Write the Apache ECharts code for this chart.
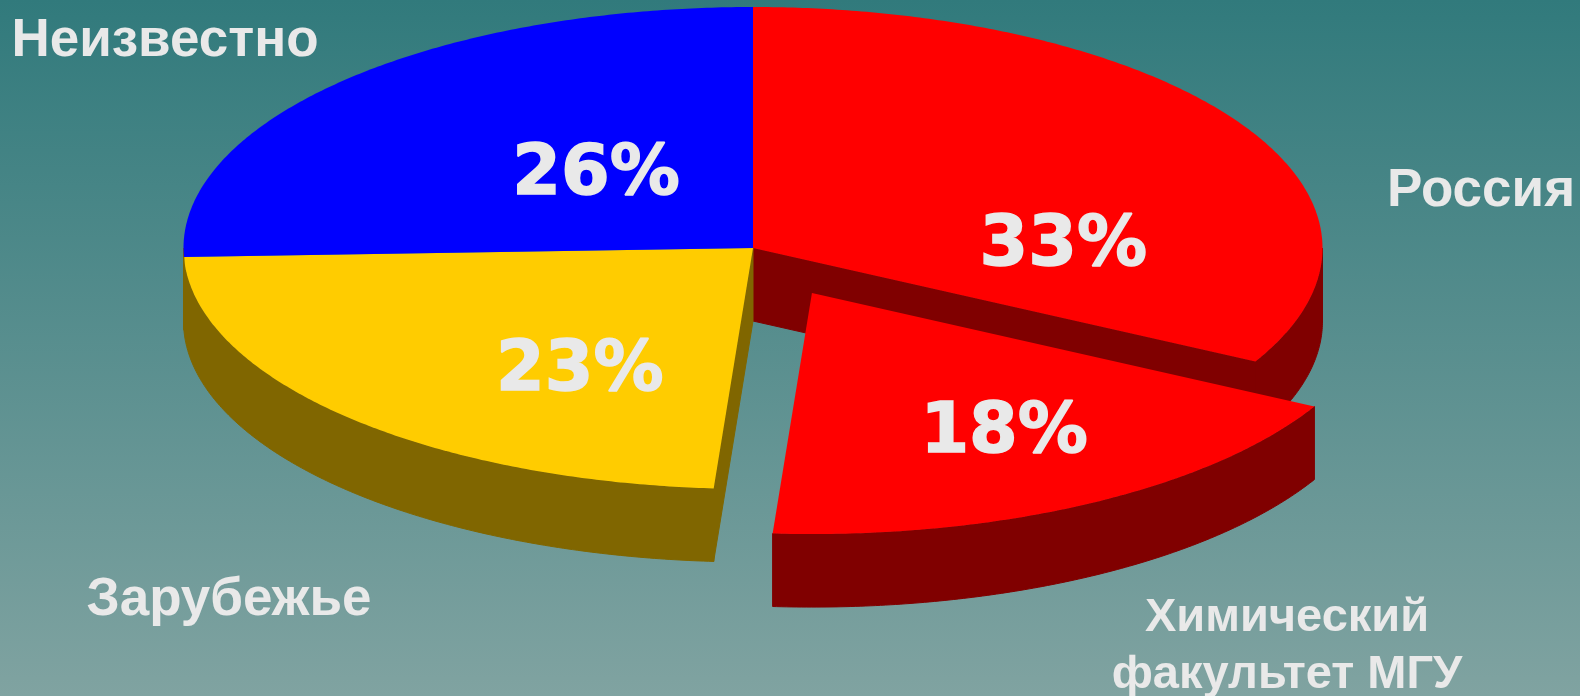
<!DOCTYPE html>
<html>
<head>
<meta charset="utf-8">
<title>Pie</title>
<style>
  html, body { margin: 0; padding: 0; background: #5a8f8f; }
  #chart { width: 1580px; height: 696px; }
</style>
<script src="https://cdn.jsdelivr.net/npm/echarts@6/dist/echarts.min.js"></script>
</head>
<body>
<div id="chart"></div>
<script>
// values (slice sizes, the labels are the rounded ones)
const categories = ["Россия", "Химический\nфакультет МГУ", "Зарубежье", "Неизвестно"];
const values = [32.8, 18.3, 23.3, 25.6];
const exploded = [false, true, false, false];

const topColors = ["#ff0000", "#ff0000", "#ffcc00", "#0000ff"];
// the blue slice only has a sub-pixel wall at the far left, the reference shows olive there
const sideColors = ["#800000", "#800000", "#806600", "#806600"];

// percent label centres, in pie units
const percentX = [0.545, 0.441, -0.304, -0.2756];
const percentY = [-0.004, 0.772, 0.515, -0.301];

// category label centres and font sizes, px
const nameX = [1481, 1287, 229, 165];
const nameY = [191, 647, 600, 41];
const nameSize = [53, 47, 53, 53];

// pie units: radius is 1 on both axes, the grid makes it an ellipse
const DEPTH = 0.303;
const EXPLODE_X = 0.1035;
const EXPLODE_Y = 0.187;

const total = values.reduce((a, b) => a + b, 0);
const rad = d => d * Math.PI / 180;

function sliceAngles(i) {
  let sum = 0;
  for (let k = 0; k < i; k++) sum += values[k];
  return [sum / total * 360, (sum + values[i]) / total * 360];
}

function renderSlice(params, api) {
  const i = api.value(0);
  const [start, end] = sliceAngles(i);
  const ox = exploded[i] ? EXPLODE_X : 0;
  const oy = exploded[i] ? EXPLODE_Y : 0;
  const at = (deg, drop) => api.coord([ox + Math.sin(rad(deg)), oy + drop - Math.cos(rad(deg))]);
  const centre = drop => api.coord([ox, oy + drop]);
  const arc = (a, b, drop) => {
    const pts = [];
    for (let d = a; d < b; d += 0.5) pts.push(at(d, drop));
    pts.push(at(b, drop));
    return pts;
  };
  const children = [];
  const side = sideColors[i];
  // thin stroke closes the hairline between neighbouring walls
  const wallStyle = { fill: side, stroke: side, lineWidth: 1 };

  // outer wall, front half only
  const wallFrom = Math.max(start, 90);
  const wallTo = Math.min(end, 270);
  if (wallTo > wallFrom) {
    children.push({
      type: "polygon",
      shape: { points: arc(wallFrom, wallTo, 0).concat(arc(wallFrom, wallTo, DEPTH).reverse()) },
      style: wallStyle
    });
  }
  // cut walls show only next to a pulled out slice
  const n = values.length;
  if (exploded[(i + 1) % n] && Math.sin(rad(end)) > 0) {
    children.push({
      type: "polygon",
      shape: { points: [centre(0), at(end, 0), at(end, DEPTH), centre(DEPTH)] },
      style: wallStyle
    });
  }
  if (exploded[(i - 1 + n) % n] && Math.sin(rad(start)) < 0) {
    children.push({
      type: "polygon",
      shape: { points: [centre(0), at(start, 0), at(start, DEPTH), centre(DEPTH)] },
      style: wallStyle
    });
  }
  // top face
  children.push({
    type: "polygon",
    shape: { points: [centre(0)].concat(arc(start, end, 0)) },
    style: { fill: topColors[i] }
  });
  // percent label
  const p = api.coord([percentX[i], percentY[i]]);
  children.push({
    type: "text",
    z2: 10,
    style: {
      text: Math.round(values[i]) + "%",
      x: p[0],
      y: p[1],
      align: "center",
      verticalAlign: "middle",
      fill: "#e9e9e9",
      stroke: "#e9e9e9",
      lineWidth: 1.5,
      font: 'bold 70px "DejaVu Sans"'
    }
  });
  return { type: "group", children };
}

const chart = echarts.init(document.getElementById("chart"));
chart.setOption({
  animation: false,
  backgroundColor: {
    type: "linear", x: 0, y: 0, x2: 0, y2: 1,
    colorStops: [
      { offset: 0, color: "#317a7c" },
      { offset: 1, color: "#80a3a1" }
    ]
  },
  grid: { left: 183.5, top: 7, width: 1139, height: 482 },
  xAxis: { type: "value", min: -1, max: 1, show: false },
  yAxis: { type: "value", min: -1, max: 1, inverse: true, show: false },
  graphic: categories.map((name, i) => ({
    type: "text",
    x: nameX[i],
    y: nameY[i],
    silent: true,
    style: {
      text: name,
      align: "center",
      verticalAlign: "middle",
      fill: "#e9e9e9",
      font: 'bold ' + nameSize[i] + 'px "Liberation Sans"',
      lineHeight: 57
    }
  })),
  series: [
    {
      type: "custom",
      silent: true,
      clip: false,
      renderItem: renderSlice,
      encode: { x: 0, y: 1 },
      data: values.map((v, i) => [i, v])
    }
  ]
});
</script>
</body>
</html>
